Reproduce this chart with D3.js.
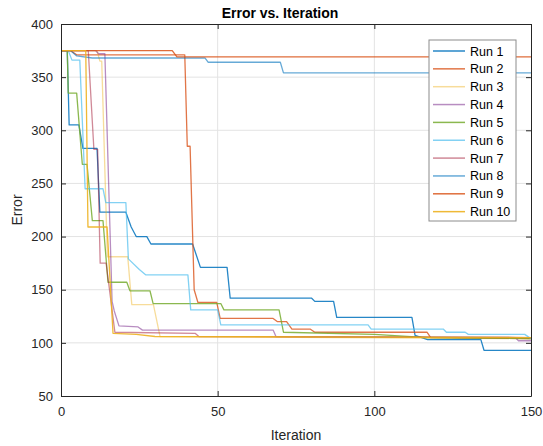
<!DOCTYPE html>
<html>
<head>
<meta charset="utf-8">
<script src="https://cdn.jsdelivr.net/npm/d3@7"></script>
<style>
  body { margin: 0; background: #fff; }
  text { font-family: "Liberation Sans", Arial, sans-serif; }
</style>
</head>
<body>
<script>
// breakpoints: [iteration, error]
const run1 = [[0,375],[2,375],[2.6,305],[5.7,305],[7,283],[11.5,283],[12.4,223],[20.7,223],[21.3,218],[22.4,209],[24,200],[27.4,200],[28.7,193],[42,193],[44.5,171],[53,171],[54,142],[80,142],[81,139],[87,139],[88,124],[112,124],[113,107],[117,103],[134,103],[135,93],[150,93]];
const run2 = [[0,375],[3,375],[5,371],[39.5,371],[40.3,285],[41.2,285],[42.5,150],[43.7,138],[49.7,138],[50.8,123],[67.7,123],[69,120],[72,120],[73.7,113],[79.5,113],[81,110],[116.8,110],[118,105],[150,104]];
const run3 = [[0,375],[11.5,375],[12.4,365],[13,365],[14.8,181],[21.3,181],[22.6,136],[29.5,136],[31.6,106],[150,104]];
const run4 = [[0,375],[11,375],[12,372],[14,372],[16.3,139],[17,130],[18.5,116],[24.6,115],[26,112],[67.7,112],[68.6,106],[145,105],[146,102],[150,102]];
const run5 = [[0,375],[2,375],[2.3,335],[5,335],[6.8,268],[8.3,268],[10,215],[13.4,215],[15,157],[21,157],[22,149],[28.4,149],[29.4,137],[51,137],[52,131],[69.6,131],[71,110],[100,108],[117,105],[150,104]];
const run6 = [[0,375],[2.3,375],[3.5,366],[6,366],[7.7,245],[13.4,245],[14.3,232],[20.7,232],[21.5,179],[25,169],[27,164],[40.5,164],[41.4,131],[50,131],[51,117],[98,117],[99,113],[122,113],[123,110],[129,110],[130,108],[148,108],[150,104]];
const run7 = [[0,375],[8.7,375],[10.5,282],[11.7,282],[12.5,175],[14.4,175],[17.2,110],[42.8,109],[44,106],[150,105]];
const run8 = [[0,375],[3,375],[5,370],[10,368],[46,368],[47,364],[70,364],[71,354],[150,354]];
const run9 = [[0,375],[35.5,375],[37,369],[150,369]];
const run10 = [[0,375],[7.9,375],[8.6,209],[14.7,209],[16.6,109],[24,108],[30,106],[150,105]];

const runs = [run1, run2, run3, run4, run5, run6, run7, run8, run9, run10];
const runNames = ["Run 1","Run 2","Run 3","Run 4","Run 5","Run 6","Run 7","Run 8","Run 9","Run 10"];
const runColors = ["#0072BD","#D95319","#EDB120","#7E2F8E","#77AC30","#4DBEEE","#A2142F","#0072BD","#D95319","#EDB120"];
const runOpacity = [0.85, 0.8, 0.45, 0.55, 0.85, 0.7, 0.5, 0.6, 0.85, 0.9];

const xTicks = [0, 50, 100, 150];
const yTicks = [50, 100, 150, 200, 250, 300, 350, 400];

const width = 543, height = 446;
const mLeft = 61, mRight = 531, mTop = 24, mBottom = 396;
const axisColor = "#262626";

const svg = d3.select("body").append("svg")
    .attr("width", width)
    .attr("height", height);

const x = d3.scaleLinear().domain([0, 150]).range([mLeft, mRight]);
const y = d3.scaleLinear().domain([50, 400]).range([mBottom, mTop]);

// grid
svg.append("g").selectAll("line")
    .data(xTicks.slice(1, -1))
    .enter().append("line")
    .attr("x1", d => x(d)).attr("x2", d => x(d))
    .attr("y1", mTop).attr("y2", mBottom)
    .attr("stroke", "#e3e3e3");
svg.append("g").selectAll("line")
    .data(yTicks.slice(1, -1))
    .enter().append("line")
    .attr("y1", d => y(d)).attr("y2", d => y(d))
    .attr("x1", mLeft).attr("x2", mRight)
    .attr("stroke", "#e3e3e3");

// lines
const line = d3.line()
    .x(d => x(d[0]))
    .y(d => y(d[1]));

const plot = svg.append("g");
runs.forEach((r, i) => {
    plot.append("path")
        .datum(r)
        .attr("d", line)
        .attr("fill", "none")
        .attr("stroke", runColors[i])
        .attr("stroke-opacity", runOpacity[i])
        .attr("stroke-width", 1.3)
        .attr("stroke-linejoin", "round");
});

// axes (ticks inside, box on)
const styleAxis = g => {
    g.select(".domain").attr("stroke", axisColor);
    g.selectAll(".tick line").attr("stroke", axisColor);
    g.selectAll(".tick text").attr("fill", axisColor).style("font-size", "13px");
};
svg.append("g")
    .attr("transform", `translate(0,${mBottom})`)
    .call(d3.axisBottom(x).tickValues(xTicks).tickSize(-5).tickSizeOuter(0).tickPadding(11))
    .call(styleAxis);
svg.append("g")
    .attr("transform", `translate(${mLeft},0)`)
    .call(d3.axisLeft(y).tickValues(yTicks).tickSize(-5).tickSizeOuter(0).tickPadding(8))
    .call(styleAxis);
svg.append("g")
    .attr("transform", `translate(0,${mTop})`)
    .call(d3.axisTop(x).tickValues(xTicks).tickSize(-5).tickSizeOuter(0).tickFormat(""))
    .call(styleAxis);
svg.append("g")
    .attr("transform", `translate(${mRight},0)`)
    .call(d3.axisRight(y).tickValues(yTicks).tickSize(-5).tickSizeOuter(0).tickFormat(""))
    .call(styleAxis);

// labels
svg.append("text")
    .attr("x", 280).attr("y", 18)
    .attr("text-anchor", "middle")
    .style("font-size", "14px").style("font-weight", "bold")
    .attr("fill", "#000")
    .text("Error vs. Iteration");
svg.append("text")
    .attr("x", (mLeft + mRight) / 2).attr("y", 440)
    .attr("text-anchor", "middle")
    .style("font-size", "14px")
    .attr("fill", axisColor)
    .text("Iteration");
svg.append("text")
    .attr("transform", `translate(22,${(mTop + mBottom) / 2}) rotate(-90)`)
    .attr("text-anchor", "middle")
    .style("font-size", "14px")
    .attr("fill", axisColor)
    .text("Error");

// legend
const leg = svg.append("g").attr("transform", "translate(429,40)");
leg.append("rect")
    .attr("width", 87).attr("height", 181)
    .attr("fill", "#fff")
    .attr("stroke", "#8c8c8c");
const item = leg.selectAll("g.item")
    .data(runNames)
    .enter().append("g")
    .attr("class", "item")
    .attr("transform", (d, i) => `translate(0,${11 + i * 17.85})`);
item.append("line")
    .attr("x1", 4).attr("x2", 36)
    .attr("stroke", (d, i) => runColors[i])
    .attr("stroke-opacity", (d, i) => runOpacity[i])
    .attr("stroke-width", 1.5);
item.append("text")
    .attr("x", 41).attr("y", 4.5)
    .style("font-size", "12.5px")
    .attr("fill", "#000")
    .text(d => d);
</script>
</body>
</html>
